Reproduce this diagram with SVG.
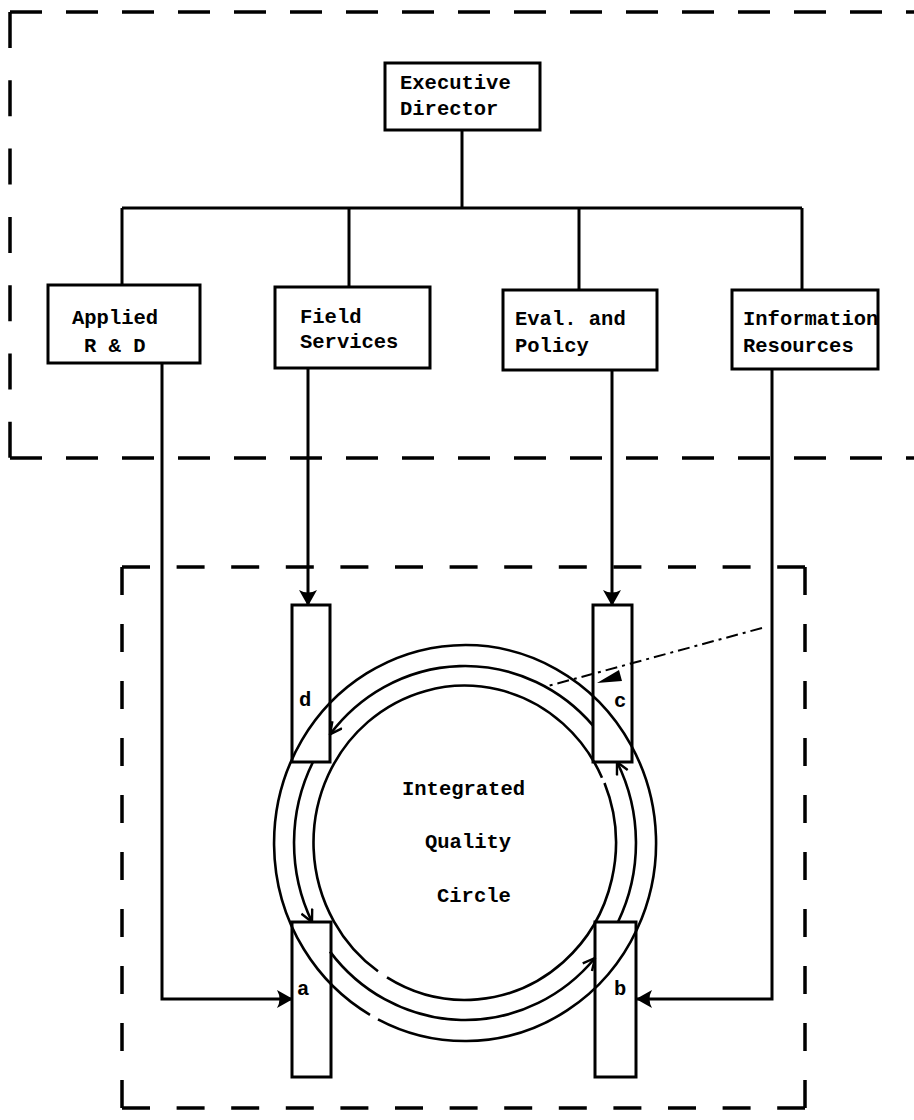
<svg xmlns="http://www.w3.org/2000/svg" width="914" height="1120" viewBox="0 0 914 1120">
<defs>
<marker id="fill" viewBox="0 0 16 18" refX="15" refY="9" markerWidth="16" markerHeight="18" markerUnits="userSpaceOnUse" orient="auto">
<path d="M0,0 L16,9 L0,18 Q5,9 0,0 Z" fill="#000"/>
</marker>
<marker id="open" viewBox="0 0 14 14" refX="13" refY="7" markerWidth="14" markerHeight="14" markerUnits="userSpaceOnUse" orient="auto">
<path d="M1,1 L13,7 L1,13" fill="none" stroke="#000" stroke-width="2.4"/>
</marker>
</defs>
<style>
text{font-family:"Liberation Mono","Courier New",monospace;font-size:20.5px;font-weight:bold;fill:#000}
.box{fill:#fff;stroke:#000;stroke-width:3}
.ln{fill:none;stroke:#000;stroke-width:3}
.ring{fill:none;stroke:#000;stroke-width:2.6}
.dash{fill:none;stroke:#000;stroke-width:3.5}
</style>
<rect width="914" height="1120" fill="#fff"/>

<g id="frames">
<line class="dash" x1="10" y1="12" x2="914" y2="12" stroke-dasharray="32 24"/>
<line class="dash" x1="10" y1="12" x2="10" y2="458" stroke-dasharray="36 32.3"/>
<line class="dash" x1="10" y1="458" x2="914" y2="458" stroke-dasharray="32 24"/>
<line class="dash" x1="122" y1="567" x2="122" y2="1108" stroke-dasharray="28 29"/>
<line class="dash" x1="122" y1="567" x2="805" y2="567" stroke-dasharray="28 26.6"/>
<line class="dash" x1="805" y1="567" x2="805" y2="1108" stroke-dasharray="28 29"/>
<line class="dash" x1="122" y1="1108" x2="805" y2="1108" stroke-dasharray="28 26.6"/>
</g>

<g id="executive-director">
<rect class="box" x="385" y="63" width="155" height="67"/>
<text x="400" y="89">Executive</text>
<text x="400" y="115">Director</text>
</g>
<g id="applied-rd">
<rect class="box" x="48" y="285" width="152" height="78"/>
<text x="72" y="324">Applied</text>
<text x="84" y="352">R &amp; D</text>
</g>
<g id="field-services">
<rect class="box" x="275" y="287" width="155" height="81"/>
<text x="300" y="323">Field</text>
<text x="300" y="348">Services</text>
</g>
<g id="eval-policy">
<rect class="box" x="503" y="290" width="154" height="80"/>
<text x="515" y="325">Eval. and</text>
<text x="515" y="352">Policy</text>
</g>
<g id="information-resources">
<rect class="box" x="732" y="290" width="146" height="79"/>
<text x="743" y="325">Information</text>
<text x="743" y="352">Resources</text>
</g>

<g id="box-d">
<rect class="box" x="292" y="605" width="38" height="157"/>
<text x="299" y="706">d</text>
</g>
<g id="box-c">
<rect class="box" x="593" y="605" width="39" height="157"/>
<text x="614" y="707">c</text>
</g>
<g id="box-a">
<rect class="box" x="292" y="922" width="39" height="155"/>
<text x="297" y="995">a</text>
</g>
<g id="box-b">
<rect class="box" x="595" y="922" width="41" height="155"/>
<text x="614" y="995">b</text>
</g>

<g id="quality-circle">
<path class="ring" d="M378,1019.3 A191,198 0 1,0 370,1014.8"/>
<path class="ring" d="M387,977.4 A151,157 0 0,0 604.5,783 M602,777.7 A151,157 0 1,0 378,971.3"/>
<path class="ring" d="M593,725.6 A171,177 0 0,0 330,734.4" marker-end="url(#open)"/>
<path class="ring" d="M313,762 A171,177 0 0,0 312,922" marker-end="url(#open)"/>
<path class="ring" d="M330,951.6 A171,177 0 0,0 595,958" marker-end="url(#open)"/>
<path class="ring" d="M618,922 A171,177 0 0,0 617,762" marker-end="url(#open)"/>
<text x="402" y="795">Integrated</text>
<text x="425" y="848">Quality</text>
<text x="437" y="902">Circle</text>
</g>

<g id="connectors">
<polyline class="ln" points="462,130 462,208"/>
<polyline class="ln" points="122,208 802,208"/>
<polyline class="ln" points="122,208 122,285"/>
<polyline class="ln" points="349,208 349,287"/>
<polyline class="ln" points="579,208 579,290"/>
<polyline class="ln" points="802,208 802,290"/>
<polyline class="ln" points="308,368 308,605" marker-end="url(#fill)"/>
<polyline class="ln" points="612,370 612,605" marker-end="url(#fill)"/>
<polyline class="ln" points="162,363 162,999 292,999" marker-end="url(#fill)"/>
<polyline class="ln" points="772,369 772,999 637,999" marker-end="url(#fill)"/>
<line x1="762" y1="628" x2="548" y2="686" stroke="#000" stroke-width="2" stroke-dasharray="12 5 3 5"/>
<polygon points="597,683 622,681 619,670" fill="#000"/>
</g>
</svg>
